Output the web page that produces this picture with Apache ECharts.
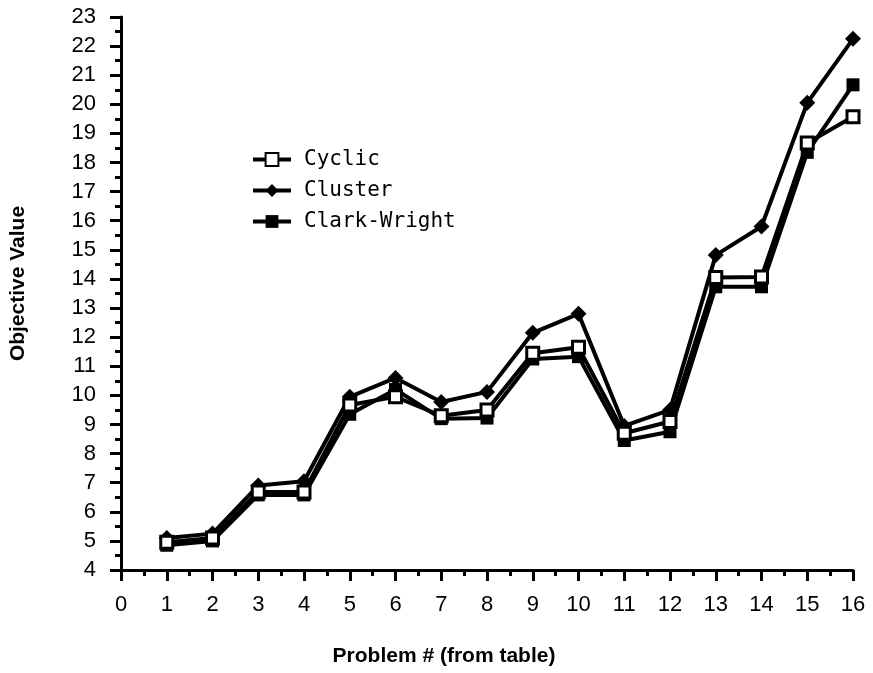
<!DOCTYPE html>
<html>
<head>
<meta charset="utf-8">
<script src="https://cdn.jsdelivr.net/npm/echarts@6/dist/echarts.min.js"></script>
<style>html,body{margin:0;padding:0;background:#fff;}#c{width:873px;height:673px;}</style>
</head>
<body>
<div id="c"></div>
<script>
const problems = [1,2,3,4,5,6,7,8,9,10,11,12,13,14,15,16];
const cyclic =      [4.95,5.1,6.68,6.68,9.67,9.95,9.3,9.5,11.45,11.65,8.7,9.1,14.05,14.07,18.67,19.57];
const cluster =     [5.1,5.25,6.9,7.05,9.95,10.6,9.77,10.12,12.15,12.8,8.95,9.5,14.82,15.8,20.05,22.25];
const clarkWright = [4.85,5.0,6.58,6.58,9.35,10.2,9.2,9.22,11.25,11.33,8.45,8.75,13.73,13.73,18.35,20.67];
const xTicks = {min:0, max:16, interval:1};
const yTicks = {min:4, max:23, interval:1};

const chart = echarts.init(document.getElementById('c'));
const pairs = arr => problems.map((p,i)=>[p, arr[i]]);
const lineStyle = {color:'#000', width:4};
const tickFont = {fontFamily:'Liberation Sans', fontSize:22, color:'#000'};
chart.setOption({
  animation:false,
  backgroundColor:'#fff',
  grid:{left:121, right:20, top:17, bottom:103},
  legend:{
    orient:'vertical', left:246, top:144, itemGap:10, itemWidth:38, itemHeight:16,
    lineStyle:{width:4},
    textStyle:{fontFamily:'DejaVu Sans Mono', fontSize:21, color:'#000', padding:[0,0,0,8]},
    data:['Cyclic','Cluster','Clark-Wright']
  },
  xAxis:{
    type:'value', min:xTicks.min, max:xTicks.max, interval:xTicks.interval,
    name:'Problem # (from table)', nameLocation:'middle', nameGap:76,
    nameTextStyle:{fontFamily:'Liberation Sans', fontWeight:'bold', fontSize:21, color:'#000', padding:[0,86,0,0]},
    axisLine:{lineStyle:{color:'#000', width:3}},
    axisTick:{length:11, lineStyle:{color:'#000', width:3}},
    minorTick:{show:true, splitNumber:2, length:6, lineStyle:{color:'#000', width:3}},
    splitLine:{show:false},
    axisLabel:Object.assign({margin:24}, tickFont)
  },
  yAxis:{
    type:'value', min:yTicks.min, max:yTicks.max, interval:yTicks.interval,
    name:'Objective Value', nameLocation:'middle', nameGap:92, nameRotate:90,
    nameTextStyle:{fontFamily:'Liberation Sans', fontWeight:'bold', fontSize:21, color:'#000', padding:[0,0,0,20]},
    axisLine:{lineStyle:{color:'#000', width:3}},
    axisTick:{length:11, lineStyle:{color:'#000', width:3}},
    minorTick:{show:true, splitNumber:2, length:6, lineStyle:{color:'#000', width:3}},
    splitLine:{show:false},
    axisLabel:Object.assign({margin:25}, tickFont)
  },
  series:[
    {name:'Cluster', type:'line', data:pairs(cluster), symbol:'diamond', symbolSize:16,
     lineStyle:lineStyle, itemStyle:{color:'#000'}, z:2},
    {name:'Clark-Wright', type:'line', data:pairs(clarkWright), symbol:'rect', symbolSize:13,
     lineStyle:lineStyle, itemStyle:{color:'#000'}, z:3},
    {name:'Cyclic', type:'line', data:pairs(cyclic), symbol:'rect', symbolSize:12,
     lineStyle:lineStyle, itemStyle:{color:'#fff', borderColor:'#000', borderWidth:3}, z:4}
  ]
});
</script>
</body>
</html>
